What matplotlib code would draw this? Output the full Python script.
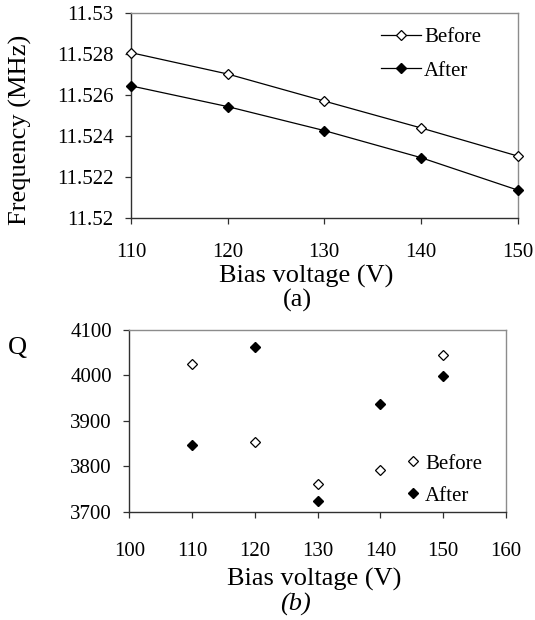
import matplotlib.pyplot as plt
import numpy as np
from matplotlib.ticker import FuncFormatter

plt.rcParams['font.family'] = ['Liberation Serif', 'DejaVu Serif']

# data
voltage = [110, 120, 130, 140, 150]
freq_before = [11.52808, 11.52704, 11.52572, 11.52441, 11.52304]
freq_after = [11.52646, 11.52545, 11.52428, 11.52296, 11.52138]
q_before = [4026, 3854, 3761, 3792, 4045]
q_after = [3847, 4063, 3724, 3937, 3998]

freq_ticks = [11.52, 11.522, 11.524, 11.526, 11.528, 11.53]
q_ticks = [3700, 3800, 3900, 4000, 4100]
q_xticks = [100, 110, 120, 130, 140, 150, 160]

dark = '#303030'
grey = '#8c8c8c'


def style_axes(ax):
    ax.spines['left'].set_color(dark)
    ax.spines['bottom'].set_color(dark)
    ax.spines['top'].set_color(grey)
    ax.spines['right'].set_color(grey)
    for s in ax.spines.values():
        s.set_linewidth(1.0)
    ax.tick_params(direction='out', length=4.5, width=0.9, color=dark,
                   labelsize=15, top=False, right=False)
    ax.tick_params(axis='y', pad=8)


fig = plt.figure(figsize=(5.35, 6.2), dpi=100)

# (a) frequency
ax1 = fig.add_axes([0.2449, 0.6479, 0.7224, 0.3306])
ax1.plot(voltage, freq_before, color='black', lw=0.9, marker='D', ms=5.5,
         mfc='white', mec='black', mew=0.9, clip_on=False, zorder=3, label='Before')
ax1.plot(voltage, freq_after, color='black', lw=0.9, marker='D', ms=5.5,
         mfc='black', mec='black', clip_on=False, zorder=3, label='After')
ax1.set_xlim(110, 150)
ax1.set_ylim(11.52, 11.53)
ax1.set_xticks(voltage)
ax1.set_yticks(freq_ticks)
ax1.yaxis.set_major_formatter(FuncFormatter(lambda v, p: f"{v:.3f}".rstrip('0')))
style_axes(ax1)
ax1.tick_params(axis='x', pad=13)
ax1.set_xlabel('Bias voltage (V)', fontsize=19)
ax1.xaxis.set_label_coords(0.453, -0.228)
ax1.set_ylabel('Frequency (MHz)', fontsize=19)
ax1.yaxis.set_label_coords(-0.255, 0.43)
ax1.legend(loc='upper left', bbox_to_anchor=(0.626, 0.97), frameon=False,
           fontsize=15, handlelength=1.9, handletextpad=0.15, labelspacing=0.65,
           borderaxespad=0)
fig.text(297 / 535, 1 - 300 / 620, '(a)', fontsize=19, ha='center', va='center')

# (b) quality factor
ax2 = fig.add_axes([0.2417, 0.1747, 0.7041, 0.2930])
ax2.plot(voltage, q_before, ls='none', marker='D', ms=5.5, mfc='white',
         mec='black', mew=0.9, label='Before')
ax2.plot(voltage, q_after, ls='none', marker='D', ms=5.5, mfc='black',
         mec='black', label='After')
ax2.set_xlim(100, 160)
ax2.set_ylim(3700, 4100)
ax2.set_xticks(q_xticks)
ax2.set_yticks(q_ticks)
style_axes(ax2)
ax2.tick_params(axis='x', pad=17)
ax2.set_xlabel('Bias voltage (V)', fontsize=19)
ax2.xaxis.set_label_coords(0.49, -0.31)
ax2.legend(loc='upper left', bbox_to_anchor=(0.708, 0.363), frameon=False,
           fontsize=15, handlelength=0.8, handletextpad=0.2, labelspacing=0.6,
           borderaxespad=0)
fig.text(17 / 535, 1 - 348 / 620, 'Q', fontsize=19, ha='center', va='center')
fig.text(295 / 535, 1 - 604 / 620, '(b)', fontsize=19, style='italic',
         ha='center', va='center')

fig.savefig('out.png', dpi=100)
